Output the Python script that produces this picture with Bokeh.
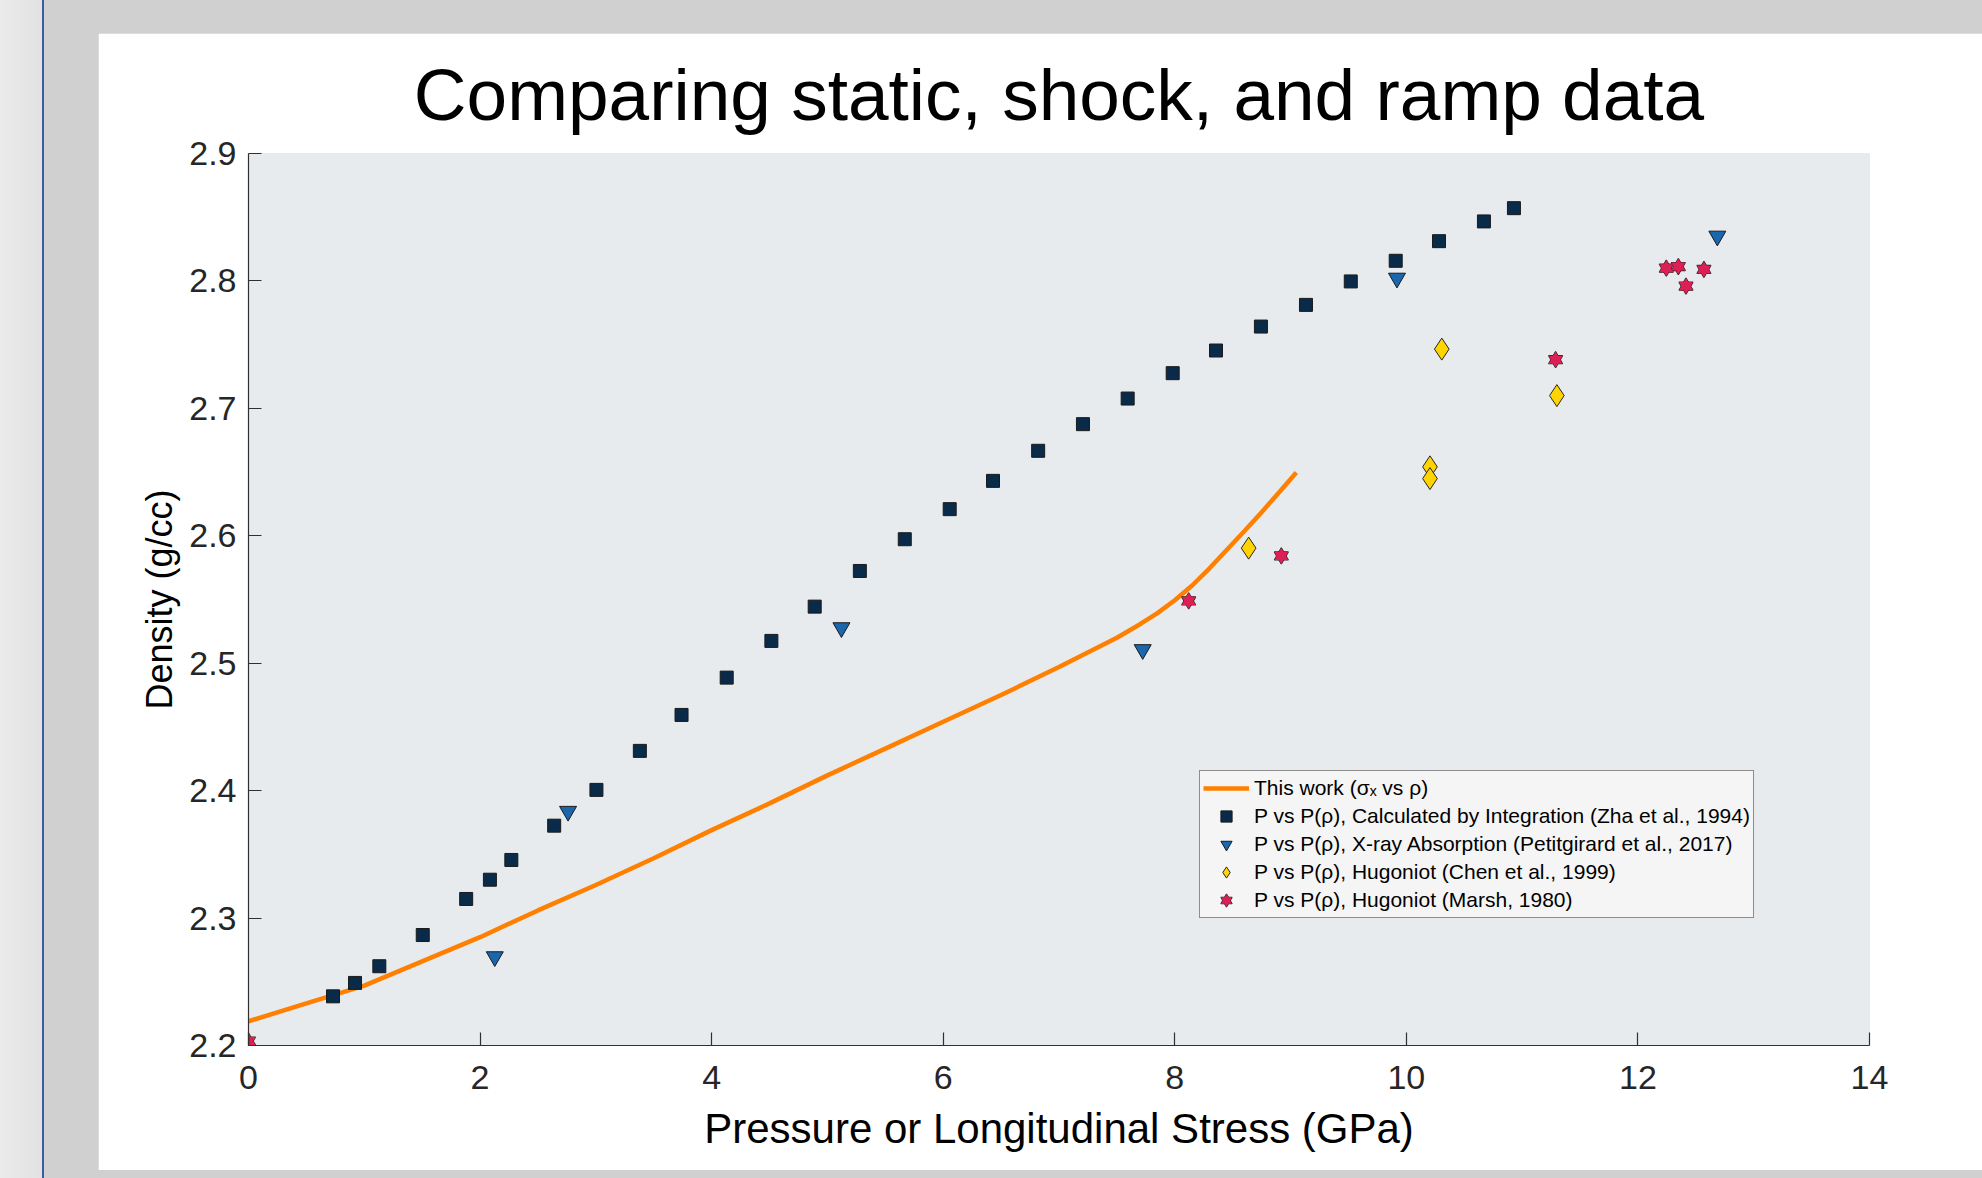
from bokeh.plotting import figure
from bokeh.models import Legend, LegendItem, Range1d, FixedTicker, PrintfTickFormatter
from bokeh.layouts import column
from bokeh.embed import file_html
from bokeh.resources import INLINE

# ---------------- data ----------------
work_p = [0.0, 0.5, 1.0, 1.5, 2.0, 2.5, 3.0, 3.5, 4.0, 4.5, 5.0, 5.5, 6.0, 6.5, 7.0,
          7.5, 7.7, 7.85, 8.0, 8.15, 8.3, 8.45, 8.6, 8.75, 8.9, 9.05]
work_rho = [2.219, 2.233, 2.247, 2.266, 2.285, 2.306, 2.326, 2.347, 2.369, 2.390, 2.412,
            2.433, 2.454, 2.475, 2.497, 2.520, 2.5306, 2.5393, 2.5494, 2.5610, 2.5745,
            2.5890, 2.6035, 2.6185, 2.634, 2.6496]

zha_p = [0.73, 0.92, 1.13, 1.505, 1.88, 2.085, 2.27, 2.64, 3.005, 3.38, 3.74, 4.13, 4.516,
         4.89, 5.28, 5.668, 6.056, 6.43, 6.82, 7.207, 7.593, 7.982, 8.356, 8.744, 9.133,
         9.52, 9.908, 10.282, 10.67, 10.929]
zha_rho = [2.2386, 2.2491, 2.2622, 2.2867, 2.315, 2.3301, 2.3456, 2.3725, 2.4006, 2.4312,
           2.4594, 2.4887, 2.5175, 2.5444, 2.5724, 2.5973, 2.6209, 2.6431, 2.6667, 2.6876,
           2.7077, 2.7276, 2.7454, 2.7642, 2.7812, 2.7996, 2.8158, 2.8312, 2.8467, 2.8571]

petit_p = [2.127, 2.76, 5.121, 7.723, 9.919, 12.686]
petit_rho = [2.2697, 2.3838, 2.5279, 2.5107, 2.8022, 2.8352]

chen_p = [8.638, 10.204, 10.204, 10.306, 11.30]
chen_rho = [2.5903, 2.6541, 2.6449, 2.7465, 2.7100]

marsh_p = [0.0, 8.12, 8.92, 11.289, 12.245, 12.349, 12.415, 12.57]
marsh_rho = [2.2035, 2.5489, 2.5842, 2.7382, 2.8100, 2.8113, 2.7959, 2.8090]

x_ticks = [0, 2, 4, 6, 8, 10, 12, 14]
y_ticks = [2.2, 2.3, 2.4, 2.5, 2.6, 2.7, 2.8, 2.9]

labels = [
    "This work (\u03c3\u2093 vs \u03c1)",
    "P vs P(\u03c1), Calculated by Integration (Zha et al., 1994)",
    "P vs P(\u03c1), X-ray Absorption (Petitgirard et al., 2017)",
    "P vs P(\u03c1), Hugoniot (Chen et al., 1999)",
    "P vs P(\u03c1), Hugoniot (Marsh, 1980)",
]

FONT = "Liberation Sans"

# ---------------- figure ----------------
p = figure(width=1884, height=1137, x_range=Range1d(0, 14), y_range=Range1d(2.2, 2.9),
           output_backend="svg", toolbar_location=None,
           min_border_left=150, min_border_right=113, min_border_top=120, min_border_bottom=125)

p.background_fill_color = "#e8ebee"
p.border_fill_color = "#ffffff"
p.outline_line_color = None
p.xgrid.visible = False
p.ygrid.visible = False

p.title.text = "Comparing static, shock, and ramp data"
p.title.align = "center"
p.title.text_font = FONT
p.title.text_font_size = "73px"
p.title.text_font_style = "normal"
p.title.text_color = "#000000"
p.title.standoff = 37

for ax in (p.xaxis[0], p.yaxis[0]):
    ax.axis_line_color = "#303030"
    ax.axis_line_width = 1.2
    ax.major_tick_line_color = "#303030"
    ax.major_tick_line_width = 1.2
    ax.major_tick_in = 13
    ax.major_tick_out = 0
    ax.minor_tick_line_color = None
    ax.major_label_text_font = FONT
    ax.major_label_text_font_size = "34px"
    ax.major_label_text_color = "#262626"
    ax.axis_label_text_font = FONT
    ax.axis_label_text_font_style = "normal"
    ax.axis_label_text_color = "#000000"

p.xaxis.ticker = FixedTicker(ticks=x_ticks)
p.yaxis.ticker = FixedTicker(ticks=y_ticks)
p.xaxis.formatter = PrintfTickFormatter(format="%d")
p.yaxis.formatter = PrintfTickFormatter(format="%.1f")
p.xaxis.axis_label = "Pressure or Longitudinal Stress (GPa)"
p.yaxis.axis_label = "Density (g/cc)"
p.xaxis.axis_label_text_font_size = "42px"
p.yaxis.axis_label_text_font_size = "36px"
p.xaxis.major_label_standoff = 20
p.yaxis.major_label_standoff = 12
p.xaxis.axis_label_standoff = 13
p.yaxis.axis_label_standoff = 6

# ---------------- glyphs ----------------
r_line = p.line(work_p, work_rho, line_color="#ff8000", line_width=4.5)

r_zha = p.scatter(zha_p, zha_rho, marker="square", size=13,
                  fill_color="#0a2a4a", line_color="#1a1a1a", line_width=1)
r_petit = p.scatter(petit_p, petit_rho, marker="inverted_triangle", size=17,
                    fill_color="#1a67ad", line_color="#1a1a1a", line_width=1)
r_chen = p.scatter(chen_p, chen_rho, marker="diamond", size=22,
                   fill_color="#ffd400", line_color="#262626", line_width=1)

# hexagram = two overlaid triangles: outlines first, fills on top
hex_col = "#dc1f54"
r_m1 = p.scatter(marsh_p, marsh_rho, marker="triangle", size=14,
                 fill_color=hex_col, line_color="#262626", line_width=1.2)
r_m2 = p.scatter(marsh_p, marsh_rho, marker="inverted_triangle", size=14,
                 fill_color=hex_col, line_color="#262626", line_width=1.2)
r_m3 = p.scatter(marsh_p, marsh_rho, marker="triangle", size=14,
                 fill_color=hex_col, line_color=None)
r_m4 = p.scatter(marsh_p, marsh_rho, marker="inverted_triangle", size=14,
                 fill_color=hex_col, line_color=None)

legend = Legend(items=[
    LegendItem(label=labels[0], renderers=[r_line]),
    LegendItem(label=labels[1], renderers=[r_zha]),
    LegendItem(label=labels[2], renderers=[r_petit]),
    LegendItem(label=labels[3], renderers=[r_chen]),
    LegendItem(label=labels[4], renderers=[r_m1, r_m2, r_m3, r_m4]),
], location=(951, 127))
legend.label_text_font = FONT
legend.label_text_font_size = "21px"
legend.label_text_color = "#000000"
legend.background_fill_color = "#f5f5f5"
legend.background_fill_alpha = 1.0
legend.border_line_color = "#262626"
legend.border_line_width = 1
legend.padding = 3
legend.spacing = 0
legend.margin = 0
legend.glyph_width = 46
legend.glyph_height = 28
legend.label_height = 28
legend.label_standoff = 5
p.add_layout(legend)

layout = column(p, styles={
    "background": "linear-gradient(to right, #ebebeb 0px, #e2e2e2 42px, #3a5ba8 42px, "
                  "#3a5ba8 44px, #d1d0d1 44px, #d1d0d1 100%)",
    "padding-top": "33px",
    "padding-left": "98px",
    "padding-bottom": "8px",
})

open("out.html", "w").write(file_html(layout, INLINE))
